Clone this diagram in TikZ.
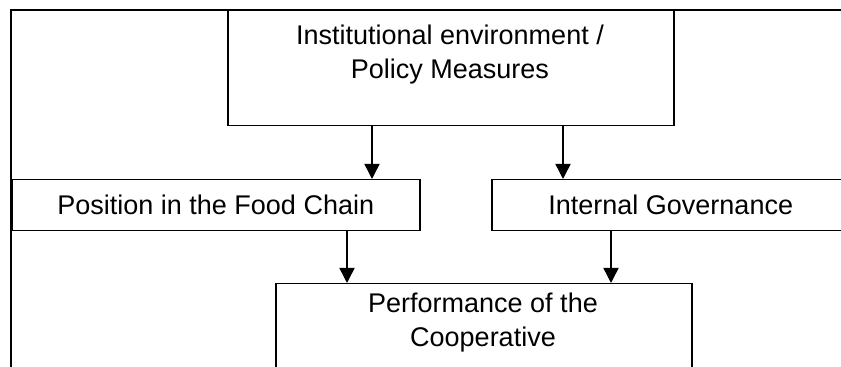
\documentclass[tikz,border=0pt]{standalone}
\usepackage{fontspec}
\setmainfont{Liberation Sans}
\usetikzlibrary{arrows.meta}

\begin{document}
\begin{tikzpicture}[x=0.5pt,y=0.5pt]
        \tikzset{box/.style={draw=black,line width=0.75pt,rectangle,inner sep=0pt,align=center,font=\fontsize{13.5}{17}\selectfont},
                 arr/.style={draw=black,line width=0.75pt,-{Triangle[width=7.5pt,length=7.5pt]}}}
        \useasboundingbox (0,0) rectangle (841,367);
        \clip (0,0) rectangle (841,367);

        % outer frame
        \coordinate (F1) at (11,-10);
        \coordinate (F2) at (860,357);
        \draw[black,line width=0.75pt] (F1) |- (F2);

        \node[box,anchor=north west,minimum width=223pt,minimum height=57.5pt] (inst) at (227,357) {};
        \node[box,anchor=north west,minimum width=204pt,minimum height=25.5pt] (pos) at (11,188) {Position in the Food Chain};
        \node[box,anchor=north west,minimum width=179pt,minimum height=25.5pt] (gov) at (491,188) {Internal Governance};
        \node[box,anchor=north west,minimum width=208pt,minimum height=52pt] (perf) at (275,84) {};

        \node[box,draw=none] (instText) at (450,312) {Institutional environment /\\ Policy Measures};
        \node[box,draw=none] (perfText) at (483,44.5) {Performance of the\\ Cooperative};

        \coordinate (a1) at (372,0);
        \coordinate (a2) at (563,0);
        \coordinate (a3) at (347,0);
        \coordinate (a4) at (611,0);

        \draw[arr] (inst.south -| a1) -- (pos.north -| a1);
        \draw[arr] (inst.south -| a2) -- (gov.north -| a2);
        \draw[arr] (pos.south -| a3) -- (perf.north -| a3);
        \draw[arr] (gov.south -| a4) -- (perf.north -| a4);
    \end{tikzpicture}
\end{document}
